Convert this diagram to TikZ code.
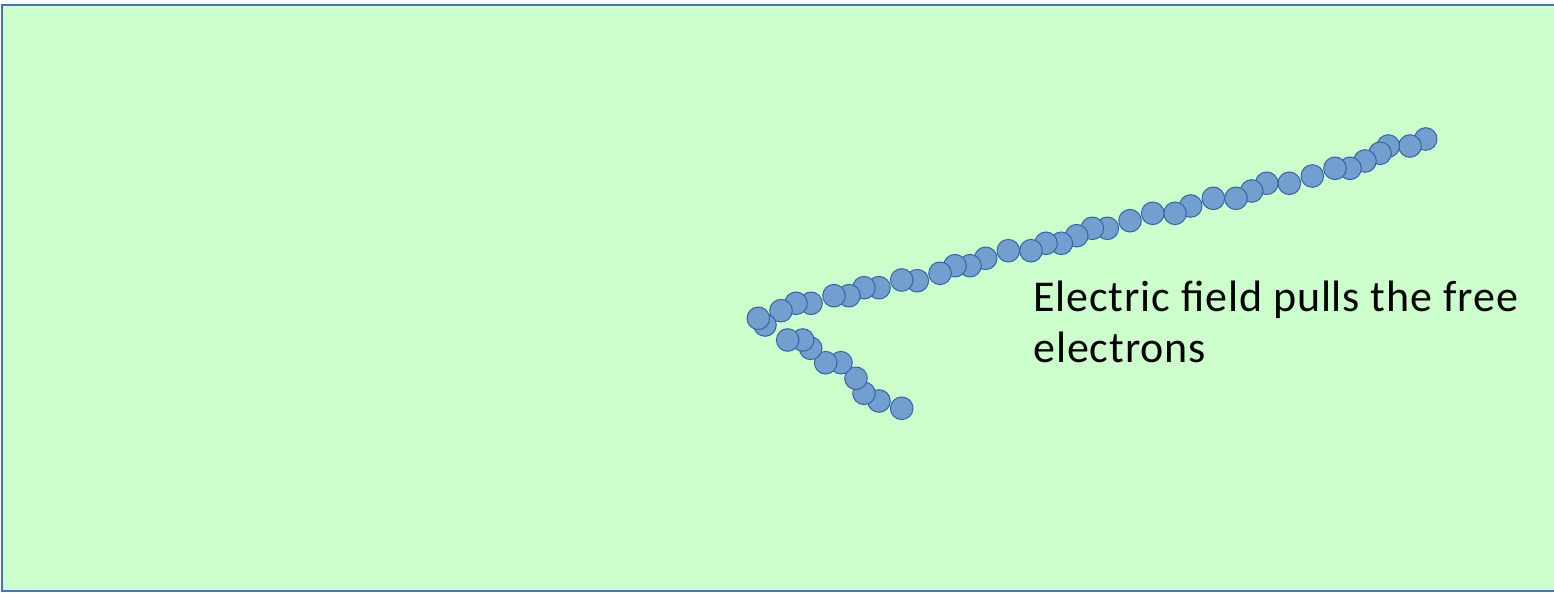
\documentclass[tikz,border=0pt]{standalone}
\usepackage{fontspec}
\setmainfont{Carlito}[LetterSpace=2]
\usepackage{tikz}
\usetikzlibrary{positioning}
\definecolor{fieldgreen}{RGB}{204,255,204}
\definecolor{frameblue}{RGB}{68,114,196}
\definecolor{electronfill}{RGB}{114,159,207}
\definecolor{electronline}{RGB}{52,101,164}

\begin{document}
\begin{tikzpicture}[x=0.5pt, y=-0.5pt,
    electron/.style={circle, fill=electronfill, draw=electronline, line width=0.5pt, minimum size=11.3pt, inner sep=0pt},
    caption/.style={font=\fontsize{22}{25.3}\selectfont, align=left, anchor=base west, inner sep=0pt}]
        \useasboundingbox (0,0) rectangle (1554,593);
        \clip (0,0) rectangle (1554,593);
        % Conductor region
        \filldraw [fill=fieldgreen, draw=frameblue, line width=1pt] (2,5) rectangle (1570,591);
        % Free electrons pulled along the wire
        \foreach \x/\y [count=\i] in {1425.7/139, 1410/146, 1388.3/146, 1380/153.3, 1365/161, 1350/168.3, 1335/168.3,
            1312.3/176, 1289.3/183.3, 1266.7/183.3, 1251.7/191, 1236/198.3, 1213.3/198.3, 1190.7/206, 1175/213.3,
            1152.7/213.3, 1130/220.7, 1107.3/228.3, 1092.3/228.3, 1076.7/235.7, 1061.3/243.3, 1046/243.3,
            1031/250.7, 1008.3/250.7, 985.7/258.3, 970/265.7, 955/265.7, 940/273.3, 917.3/280.7, 901.7/280,
            879/287.7, 864/287.7, 849/295.7, 834/295.7, 811/303.3, 796/303.3, 781/310.7, 765/325, 758.3/318.3}
            \node [electron] (e\i) at (\x,\y) {};
        \foreach \x/\y [count=\i] in {901.7/408.3, 879/401, 864/393.3, 856/378.3, 841/362.7, 825.7/362.7,
            810.7/348.3, 802.7/340, 787.7/340}
            \node [electron] (t\i) at (\x,\y) {};
        % Caption (base anchor sits on the last line)
        \node [caption] (label) at (1033,362.3) {Electric ﬁeld pulls the free\\electrons};
    \end{tikzpicture}
\end{document}
